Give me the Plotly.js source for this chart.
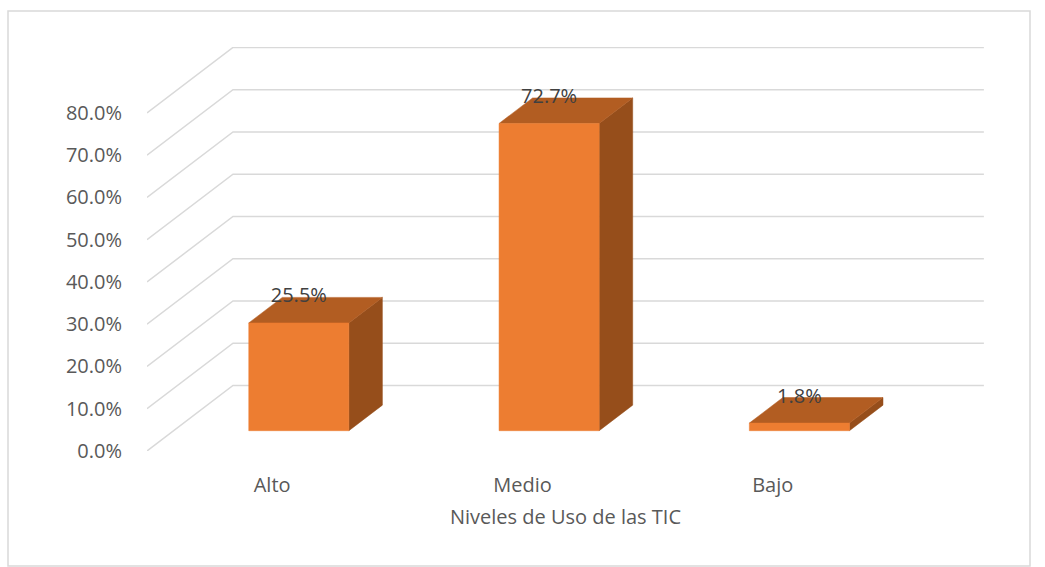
<!DOCTYPE html>
<html>
<head>
<meta charset="utf-8">
<script src="https://cdn.plot.ly/plotly-3.0.1.min.js"></script>
<style>html,body{margin:0;padding:0;background:#fff;overflow:hidden}#c{width:1045px;height:567px}</style>
</head>
<body>
<div id="c"></div>
<script>
var categories = ['Alto', 'Medio', 'Bajo'];
var values = [25.5, 72.7, 1.8];
var valueLabels = ['25.5%', '72.7%', '1.8%'];
var gridValues = [0, 10, 20, 30, 40, 50, 60, 70, 80];
var gridLabels = ['0.0%', '10.0%', '20.0%', '30.0%', '40.0%', '50.0%', '60.0%', '70.0%', '80.0%'];

// Oblique projection of the 3-D chart box onto the flat axes.
// Depth 0 is the front of the floor, depth 1 the back wall.
var depthX = 86 / 250.33;   // category units across per full depth
var depthY = 65.5 / 4.225;  // percent units up per full depth
var halfBar = 0.2;          // half a bar width, in category units
var zFront = 0.31, zBack = 0.70;

function px(c, z) { return c + z * depthX; }
function py(v, z) { return v + z * depthY; }

var traces = [];
var edgeLeft = -0.5, edgeRight = 2.5;

gridValues.forEach(function (v) {
  traces.push({
    type: 'scatter', mode: 'lines', hoverinfo: 'skip', showlegend: false,
    x: [px(edgeLeft, 0), px(edgeLeft, 1), px(edgeRight, 1)],
    y: [py(v, 0), py(v, 1), py(v, 1)],
    line: { color: '#D9D9D9', width: 1.5 }
  });
});

function face(xs, ys, color) {
  traces.push({
    type: 'scatter', mode: 'lines', fill: 'toself', fillcolor: color,
    hoverinfo: 'skip', showlegend: false,
    x: xs, y: ys, line: { color: color, width: 0.5 }
  });
}

categories.forEach(function (name, i) {
  var v = values[i], l = i - halfBar, r = i + halfBar;
  // side
  face([px(r, zFront), px(r, zBack), px(r, zBack), px(r, zFront), px(r, zFront)],
       [py(0, zFront), py(0, zBack), py(v, zBack), py(v, zFront), py(0, zFront)], '#964E1B');
  // top
  face([px(l, zFront), px(r, zFront), px(r, zBack), px(l, zBack), px(l, zFront)],
       [py(v, zFront), py(v, zFront), py(v, zBack), py(v, zBack), py(v, zFront)], '#B25D22');
  // front
  face([px(l, zFront), px(r, zFront), px(r, zFront), px(l, zFront), px(l, zFront)],
       [py(0, zFront), py(0, zFront), py(v, zFront), py(v, zFront), py(0, zFront)], '#ED7D31');
});

traces.push({
  type: 'scatter', mode: 'text', hoverinfo: 'skip', showlegend: false,
  x: categories.map(function (n, i) { return px(i, zFront); }),
  y: values.map(function (v) { return py(v, zBack); }),
  text: valueLabels, textposition: 'middle center',
  textfont: { family: 'Open Sans, sans-serif', size: 20, color: '#404040' },
  cliponaxis: false
});

var font = { family: 'Open Sans, sans-serif', size: 20, color: '#595959' };

var layout = {
  width: 1045, height: 567,
  margin: { l: 147, r: 61, t: 47, b: 116, pad: 0 },
  paper_bgcolor: '#fff', plot_bgcolor: 'rgba(0,0,0,0)',
  showlegend: false,
  font: font,
  xaxis: {
    range: [-0.5, 2.844], showgrid: false, zeroline: false, showline: false, fixedrange: true,
    tickmode: 'array', tickvals: [0, 1, 2], ticktext: categories,
    ticks: 'outside', ticklen: 16, tickcolor: 'rgba(0,0,0,0)', tickfont: font,
    title: { text: 'Niveles de Uso de las TIC', font: font, standoff: 12 }
  },
  yaxis: {
    range: [0, 95.6], showgrid: false, zeroline: false, showline: false, fixedrange: true,
    tickmode: 'array', tickvals: gridValues, ticktext: gridLabels,
    ticks: 'outside', ticklen: 20, tickcolor: 'rgba(0,0,0,0)', tickfont: font
  },
  shapes: [{
    type: 'rect', xref: 'paper', yref: 'paper', layer: 'below',
    x0: -139 / 837, x1: 1 + 46 / 837, y0: -115 / 404, y1: 1 + 36 / 404,
    line: { color: '#D9D9D9', width: 1.5 }, fillcolor: 'rgba(0,0,0,0)'
  }]
};

Plotly.newPlot('c', traces, layout, { displayModeBar: false, staticPlot: true });
</script>
</body>
</html>
